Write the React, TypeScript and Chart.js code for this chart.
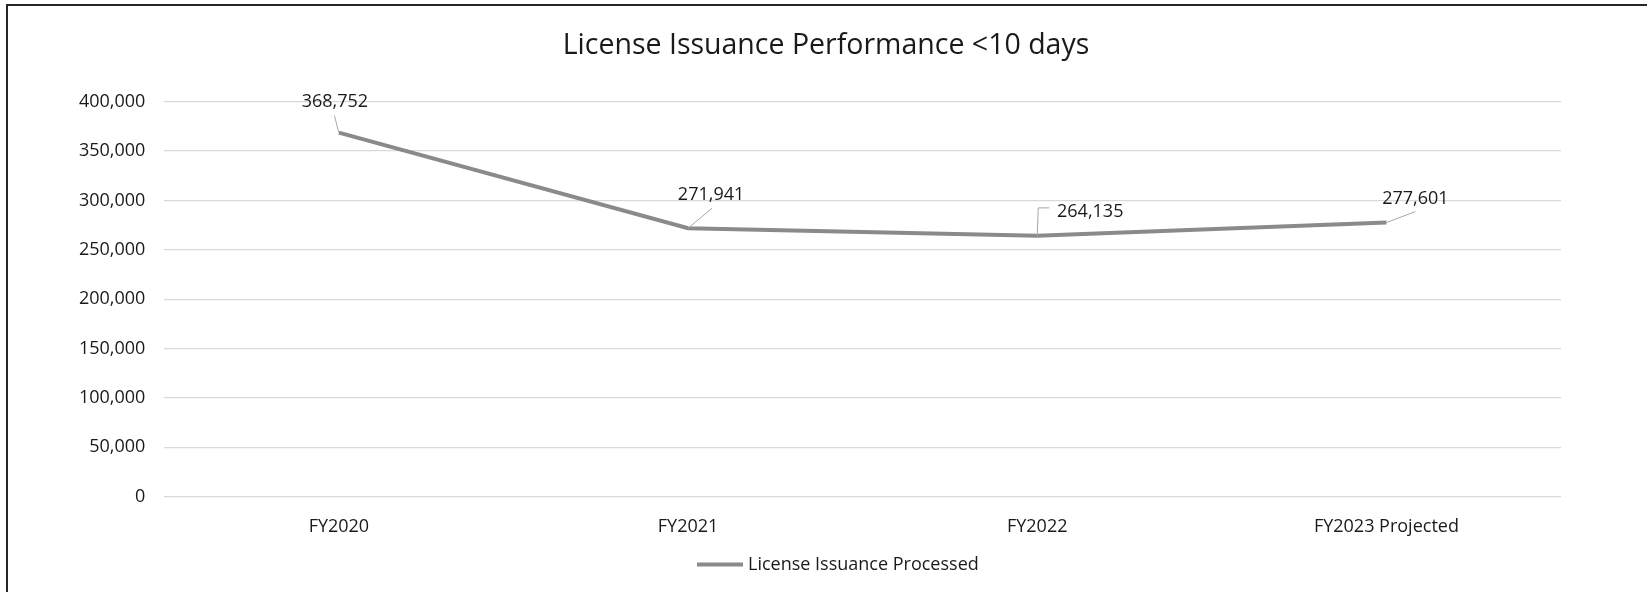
import React, { useEffect, useRef } from "react";
import { Chart, registerables } from "chart.js";

Chart.register(...registerables);

const categories = ["FY2020", "FY2021", "FY2022", "FY2023 Projected"];
const processedValues = [368752, 271941, 264135, 277601];
const seriesLabel = "License Issuance Processed";
const chartTitle = "License Issuance Performance <10 days";
const yMin = 0;
const yMax = 400000;
const yStep = 50000;

const FONT = "'Open Sans', sans-serif";
const TEXT = "#1a1a1a";
const LINE = "#8a8a8a";

// label placement relative to each point (styling only)
const labelOffsets = [
  { dx: -4, dy: -31, leader: [[0, 0], [-4.5, -17]] },
  { dx: 23, dy: -33, leader: [[0, 0], [24, -20]] },
  { dx: 53, dy: -24, leader: [[0, 0], [1, -28], [12, -28]] },
  { dx: 29, dy: -24, leader: [[0, 0], [29, -11]] },
];

const fmt = (v: number) => v.toLocaleString("en-US");

const overlayPlugin = {
  id: "overlay",
  afterDatasetsDraw(chart: any) {
    const ctx = chart.ctx;
    const meta = chart.getDatasetMeta(0);
    ctx.save();
    // leader lines + data labels
    meta.data.forEach((pt: any, i: number) => {
      const o = labelOffsets[i];
      ctx.strokeStyle = "#a6a6a6";
      ctx.lineWidth = 1;
      ctx.beginPath();
      o.leader.forEach((p, j) => {
        const x = pt.x + p[0];
        const y = pt.y + p[1];
        if (j === 0) ctx.moveTo(x, y);
        else ctx.lineTo(x, y);
      });
      ctx.stroke();
      ctx.fillStyle = TEXT;
      ctx.font = `18px ${FONT}`;
      ctx.textAlign = "center";
      ctx.textBaseline = "middle";
      ctx.fillText(fmt(processedValues[i]), pt.x + o.dx, pt.y + o.dy);
    });
    // title
    ctx.fillStyle = TEXT;
    ctx.font = `28.5px ${FONT}`;
    ctx.textAlign = "center";
    ctx.textBaseline = "middle";
    ctx.fillText(chartTitle, 826, 46);
    // legend
    const ds = chart.data.datasets[0];
    ctx.strokeStyle = ds.borderColor;
    ctx.lineWidth = 4;
    ctx.beginPath();
    ctx.moveTo(697, 564.5);
    ctx.lineTo(743, 564.5);
    ctx.stroke();
    ctx.fillStyle = TEXT;
    ctx.font = `18px ${FONT}`;
    ctx.textAlign = "left";
    ctx.textBaseline = "middle";
    ctx.fillText(ds.label, 748, 565);
    ctx.restore();
  },
};

export default function App() {
  const ref = useRef<HTMLCanvasElement | null>(null);
  useEffect(() => {
    if (!ref.current) return;
    const chart = new Chart(ref.current, {
      type: "line",
      data: {
        labels: categories,
        datasets: [
          {
            label: seriesLabel,
            data: processedValues,
            borderColor: LINE,
            backgroundColor: LINE,
            borderWidth: 4,
            pointRadius: 0,
            tension: 0,
            fill: false,
          },
        ],
      },
      options: {
        animation: false,
        responsive: false,
        maintainAspectRatio: false,
        layout: { padding: { left: 0, right: 86, top: 101.7, bottom: 55 } },
        plugins: {
          legend: { display: false },
          title: { display: false },
          tooltip: { enabled: false },
        },
        scales: {
          x: {
            offset: true,
            grid: { display: false, drawTicks: false },
            border: { display: false },
            ticks: { color: TEXT, font: { family: FONT, size: 18 }, padding: 19, maxRotation: 0 },
            afterFit: (s: any) => {
              s.height = 40.3;
            },
          },
          y: {
            min: yMin,
            max: yMax,
            grid: { color: "#d9d9d9", lineWidth: 1.3, drawTicks: false },
            border: { display: false },
            ticks: {
              stepSize: yStep,
              color: TEXT,
              font: { family: FONT, size: 18 },
              padding: 19,
              callback: (v: any) => fmt(Number(v)),
            },
            afterFit: (s: any) => {
              s.width = 164.3;
            },
          },
        },
      },
      plugins: [overlayPlugin],
    });
    return () => chart.destroy();
  }, []);
  return (
    <div style={{ position: "fixed", left: 0, top: 0, width: 1647, height: 592, background: "#fff", overflow: "hidden" }}>
      <canvas ref={ref} width={1647} height={592} style={{ position: "absolute", left: 0, top: 0 }} />
      <div
        style={{
          position: "absolute",
          left: 6,
          top: 4,
          width: 2000,
          height: 1000,
          borderLeft: "2px solid #262626",
          borderTop: "2px solid #262626",
          pointerEvents: "none",
        }}
      />
    </div>
  );
}
